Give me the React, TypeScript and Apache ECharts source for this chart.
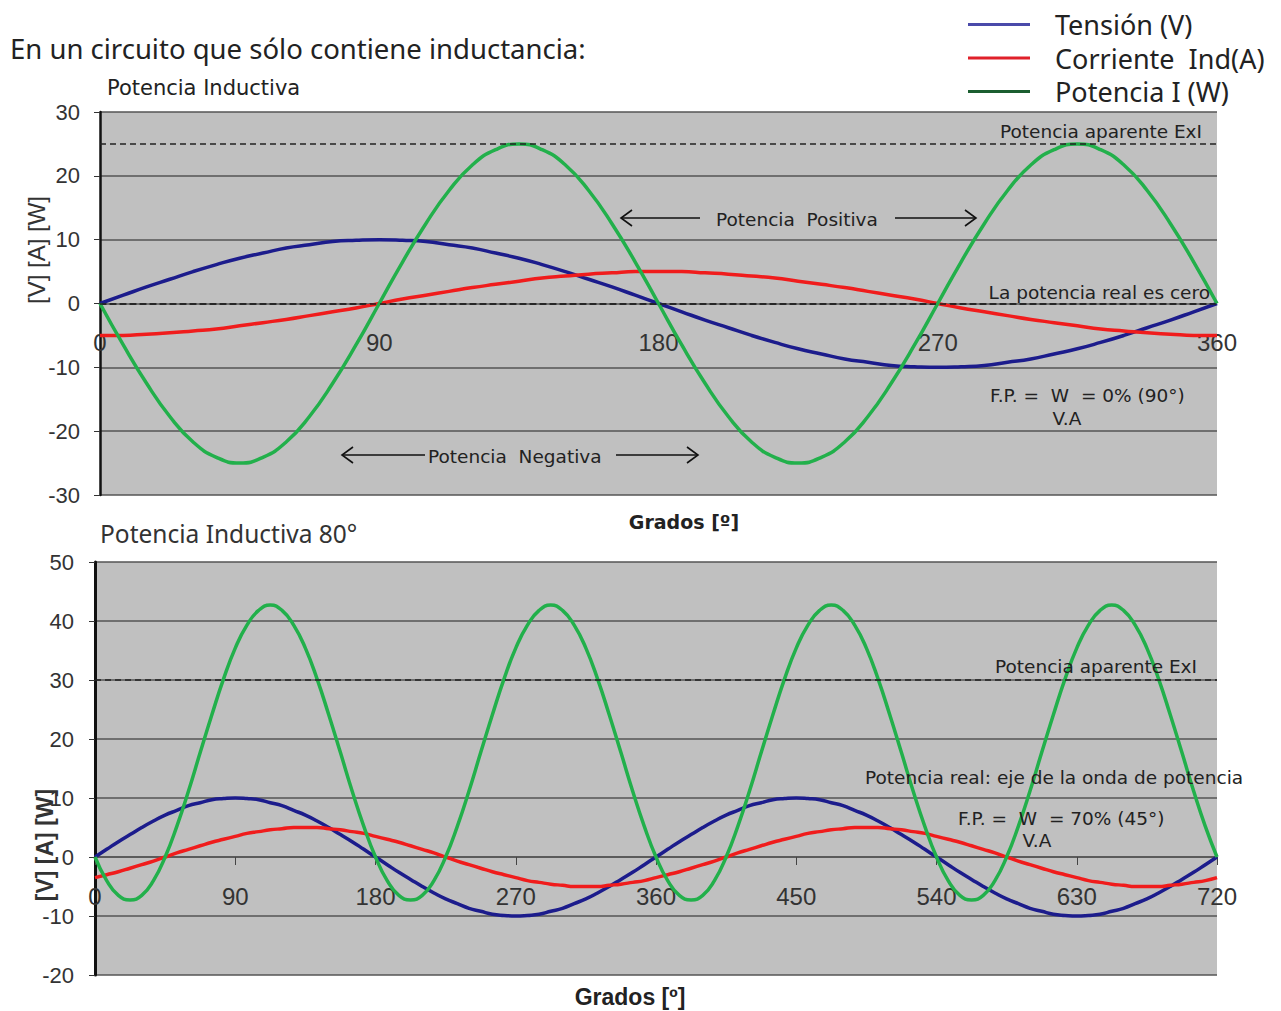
import React, { useEffect, useRef } from "react";
import * as echarts from "echarts";

// ---------- DATA ----------
const seriesNames = ["Tensión (V)", "Corriente  Ind(A)", "Potencia I (W)"];

// Top chart: degrees 0..360
const degTop = [
  0, 7.5, 15, 22.5, 30, 37.5, 45, 52.5, 60, 67.5, 75, 82.5, 90, 97.5, 105, 112.5, 120, 127.5, 135, 142.5, 150, 157.5, 165, 172.5,
  180, 187.5, 195, 202.5, 210, 217.5, 225, 232.5, 240, 247.5, 255, 262.5, 270, 277.5, 285, 292.5, 300, 307.5, 315, 322.5, 330, 337.5, 345, 352.5, 360,
];
const tensionTop = [
  0, 1.3, 2.6, 3.8, 5, 6.1, 7.1, 7.9, 8.7, 9.2, 9.7, 9.9, 10, 9.9, 9.7, 9.2, 8.7, 7.9, 7.1, 6.1, 5, 3.8, 2.6, 1.3,
  0, -1.3, -2.6, -3.8, -5, -6.1, -7.1, -7.9, -8.7, -9.2, -9.7, -9.9, -10, -9.9, -9.7, -9.2, -8.7, -7.9, -7.1, -6.1, -5, -3.8, -2.6, -1.3, 0,
];
const currentTop = [
  -5, -5, -4.8, -4.6, -4.3, -4, -3.5, -3, -2.5, -1.9, -1.3, -0.7, 0, 0.7, 1.3, 1.9, 2.5, 3, 3.5, 4, 4.3, 4.6, 4.8, 5,
  5, 5, 4.8, 4.6, 4.3, 4, 3.5, 3, 2.5, 1.9, 1.3, 0.7, 0, -0.7, -1.3, -1.9, -2.5, -3, -3.5, -4, -4.3, -4.6, -4.8, -5, -5,
];
const powerTop = [
  0, -6.5, -12.5, -17.7, -21.7, -24.1, -25, -24.1, -21.7, -17.7, -12.5, -6.5, 0, 6.5, 12.5, 17.7, 21.7, 24.1, 25, 24.1, 21.7, 17.7, 12.5, 6.5,
  0, -6.5, -12.5, -17.7, -21.7, -24.1, -25, -24.1, -21.7, -17.7, -12.5, -6.5, 0, 6.5, 12.5, 17.7, 21.7, 24.1, 25, 24.1, 21.7, 17.7, 12.5, 6.5, 0,
];
const refLinesTop = [25, 0];

// Bottom chart: degrees 0..720
const degBottom = [
  0, 7.5, 15, 22.5, 30, 37.5, 45, 52.5, 60, 67.5, 75, 82.5, 90, 97.5, 105, 112.5, 120, 127.5, 135, 142.5, 150, 157.5, 165, 172.5,
  180, 187.5, 195, 202.5, 210, 217.5, 225, 232.5, 240, 247.5, 255, 262.5, 270, 277.5, 285, 292.5, 300, 307.5, 315, 322.5, 330, 337.5, 345, 352.5,
  360, 367.5, 375, 382.5, 390, 397.5, 405, 412.5, 420, 427.5, 435, 442.5, 450, 457.5, 465, 472.5, 480, 487.5, 495, 502.5, 510, 517.5, 525, 532.5,
  540, 547.5, 555, 562.5, 570, 577.5, 585, 592.5, 600, 607.5, 615, 622.5, 630, 637.5, 645, 652.5, 660, 667.5, 675, 682.5, 690, 697.5, 705, 712.5, 720,
];
const tensionBottom = [
  0, 1.3, 2.6, 3.8, 5, 6.1, 7.1, 7.9, 8.7, 9.2, 9.7, 9.9, 10, 9.9, 9.7, 9.2, 8.7, 7.9, 7.1, 6.1, 5, 3.8, 2.6, 1.3,
  0, -1.3, -2.6, -3.8, -5, -6.1, -7.1, -7.9, -8.7, -9.2, -9.7, -9.9, -10, -9.9, -9.7, -9.2, -8.7, -7.9, -7.1, -6.1, -5, -3.8, -2.6, -1.3,
  0, 1.3, 2.6, 3.8, 5, 6.1, 7.1, 7.9, 8.7, 9.2, 9.7, 9.9, 10, 9.9, 9.7, 9.2, 8.7, 7.9, 7.1, 6.1, 5, 3.8, 2.6, 1.3,
  0, -1.3, -2.6, -3.8, -5, -6.1, -7.1, -7.9, -8.7, -9.2, -9.7, -9.9, -10, -9.9, -9.7, -9.2, -8.7, -7.9, -7.1, -6.1, -5, -3.8, -2.6, -1.3, 0,
];
const currentBottom = [
  -3.5, -3, -2.5, -1.9, -1.3, -0.7, 0, 0.7, 1.3, 1.9, 2.5, 3, 3.5, 4, 4.3, 4.6, 4.8, 5, 5, 5, 4.8, 4.6, 4.3, 4,
  3.5, 3, 2.5, 1.9, 1.3, 0.7, 0, -0.7, -1.3, -1.9, -2.5, -3, -3.5, -4, -4.3, -4.6, -4.8, -5, -5, -5, -4.8, -4.6, -4.3, -4,
  -3.5, -3, -2.5, -1.9, -1.3, -0.7, 0, 0.7, 1.3, 1.9, 2.5, 3, 3.5, 4, 4.3, 4.6, 4.8, 5, 5, 5, 4.8, 4.6, 4.3, 4,
  3.5, 3, 2.5, 1.9, 1.3, 0.7, 0, -0.7, -1.3, -1.9, -2.5, -3, -3.5, -4, -4.3, -4.6, -4.8, -5, -5, -5, -4.8, -4.6, -4.3, -4, -3.5,
];
const powerBottom = [
  0, -4, -6.5, -7.3, -6.5, -4, 0, 5.2, 11.2, 17.7, 24.1, 30.2, 35.4, 39.3, 41.8, 42.7, 41.8, 39.3, 35.4, 30.2, 24.1, 17.7, 11.2, 5.2,
  0, -4, -6.5, -7.3, -6.5, -4, 0, 5.2, 11.2, 17.7, 24.1, 30.2, 35.4, 39.3, 41.8, 42.7, 41.8, 39.3, 35.4, 30.2, 24.1, 17.7, 11.2, 5.2,
  0, -4, -6.5, -7.3, -6.5, -4, 0, 5.2, 11.2, 17.7, 24.1, 30.2, 35.4, 39.3, 41.8, 42.7, 41.8, 39.3, 35.4, 30.2, 24.1, 17.7, 11.2, 5.2,
  0, -4, -6.5, -7.3, -6.5, -4, 0, 5.2, 11.2, 17.7, 24.1, 30.2, 35.4, 39.3, 41.8, 42.7, 41.8, 39.3, 35.4, 30.2, 24.1, 17.7, 11.2, 5.2, 0,
];
const refLinesBottom = [30];

// ---------- STYLE ----------
const lineColors = ["#1c1c8c", "#f01c1c", "#22b04b"];
const legendColors = ["#4a4aaa", "#e0202a", "#1b5e30"];
const ANN = "DejaVu Sans";
const AX = "Liberation Sans";
const INK = "#222";
const ANN_SIZE = 18.5;

const pairs = (xs: number[], ys: number[]) => xs.map((x, i) => [x, ys[i]]);

const lineSeries = (name: string, idx: number, color: string, xs: number[], ys: number[], extra: any = {}) => ({
  name,
  type: "line",
  xAxisIndex: idx,
  yAxisIndex: idx,
  data: pairs(xs, ys),
  smooth: true,
  showSymbol: false,
  symbol: "none",
  lineStyle: { color, width: 3.5 },
  itemStyle: { color },
  ...extra,
});

const dashedMark = (vals: number[]) => ({
  silent: true,
  symbol: "none",
  label: { show: false },
  lineStyle: { type: [6, 4], color: INK, width: 1.5 },
  data: vals.map((v) => ({ yAxis: v })),
});

const txt = (text: string, x: number, y: number, opts: any = {}) => ({
  type: "text",
  x,
  y,
  z: 100,
  style: {
    text,
    fill: opts.fill || INK,
    fontFamily: opts.family || ANN,
    fontSize: opts.size || ANN_SIZE,
    fontWeight: opts.weight || "normal",
    align: opts.align || "left",
    verticalAlign: "middle",
  },
  rotation: opts.rotation || 0,
});

const arrow = (x1: number, x2: number, y: number, tipAtStart: boolean) => {
  const tip = tipAtStart ? x1 : x2;
  const dir = tipAtStart ? 1 : -1;
  return [
    { type: "line", z: 100, shape: { x1, y1: y, x2, y2: y }, style: { stroke: "#111", lineWidth: 1.6 } },
    {
      type: "polyline",
      z: 100,
      shape: { points: [[tip + dir * 11, y - 8], [tip, y], [tip + dir * 11, y + 8]] },
      style: { stroke: "#111", lineWidth: 1.6, fill: null },
    },
  ];
};

const axisLabelStyle = { fontFamily: AX, fontSize: 22, color: "#333" };

const option: any = {
  animation: false,
  backgroundColor: "#ffffff",
  legend: {
    orient: "vertical",
    left: 963,
    top: 6,
    icon: "rect",
    itemWidth: 62,
    itemHeight: 3,
    itemGap: 6.5,
    selectedMode: false,
    textStyle: { fontFamily: "Noto Sans", fontSize: 27, color: INK, padding: [0, 0, 0, 20] },
    data: seriesNames.map((n, i) => ({ name: n, itemStyle: { color: legendColors[i] } })),
  },
  grid: [
    { left: 100, top: 112, width: 1117, height: 383, show: true, backgroundColor: "#c0c0c0", borderWidth: 0 },
    { left: 95, top: 562, width: 1122, height: 413, show: true, backgroundColor: "#c0c0c0", borderWidth: 0 },
  ],
  xAxis: [
    {
      type: "value",
      gridIndex: 0,
      min: 0,
      max: 360,
      interval: 90,
      offset: -191.5,
      axisLine: { show: true, onZero: false, lineStyle: { color: INK, width: 1.5, type: [6, 4] } },
      axisTick: { show: false },
      axisLabel: { ...axisLabelStyle, fontSize: 24, margin: 27 },
      splitLine: { show: false },
    },
    {
      type: "value",
      gridIndex: 1,
      min: 0,
      max: 720,
      interval: 90,
      offset: -118,
      axisLine: { show: true, onZero: false, lineStyle: { color: "#555", width: 1.5 } },
      axisTick: { show: true, length: 8, lineStyle: { color: "#444", width: 1 } },
      axisLabel: { ...axisLabelStyle, fontSize: 24, margin: 27 },
      splitLine: { show: false },
    },
  ],
  yAxis: [
    {
      type: "value",
      gridIndex: 0,
      min: -30,
      max: 30,
      interval: 10,
      axisLine: { show: true, onZero: false, lineStyle: { color: "#111", width: 2.5 } },
      axisTick: { show: true, length: 6, lineStyle: { color: "#333" } },
      axisLabel: { ...axisLabelStyle, margin: 20 },
      splitLine: { show: true, lineStyle: { color: "#555", width: 1.5 } },
    },
    {
      type: "value",
      gridIndex: 1,
      min: -20,
      max: 50,
      interval: 10,
      axisLine: { show: true, onZero: false, lineStyle: { color: "#111", width: 3 } },
      axisTick: { show: true, length: 6, lineStyle: { color: "#333" } },
      axisLabel: { ...axisLabelStyle, margin: 21 },
      splitLine: { show: true, lineStyle: { color: "#555", width: 1.5 } },
    },
  ],
  series: [
    lineSeries(seriesNames[0], 0, lineColors[0], degTop, tensionTop),
    lineSeries(seriesNames[1], 0, lineColors[1], degTop, currentTop),
    lineSeries(seriesNames[2], 0, lineColors[2], degTop, powerTop, { markLine: dashedMark(refLinesTop) }),
    lineSeries(seriesNames[0], 1, lineColors[0], degBottom, tensionBottom),
    lineSeries(seriesNames[1], 1, lineColors[1], degBottom, currentBottom),
    lineSeries(seriesNames[2], 1, lineColors[2], degBottom, powerBottom, { markLine: dashedMark(refLinesBottom) }),
  ],
  graphic: [
    txt("En un circuito que sólo contiene inductancia:", 10, 48, { family: "Noto Sans", size: 27.5, fill: "#222" }),
    txt("Potencia Inductiva", 107, 88, { size: 21 }),
    txt("Potencia Inductiva 80°", 100, 533, { family: "Noto Sans", size: 24.5, fill: "#333" }),
    txt("Grados [º]", 684, 522, { size: 19, weight: "bold", align: "center" }),
    txt("Grados [º]", 630, 997, { family: AX, size: 23, weight: "bold", align: "center" }),
    txt("[V] [A] [W]", 36, 250, { family: AX, size: 24, align: "center", rotation: Math.PI / 2, fill: "#333" }),
    txt("[V] [A] [W]", 45, 845, { family: AX, size: 23, weight: "bold", align: "center", rotation: Math.PI / 2, fill: "#333" }),
    // top annotations
    txt("Potencia aparente ExI", 1202, 131, { align: "right" }),
    txt("La potencia real es cero", 1210, 292, { align: "right" }),
    txt("F.P. =  W  = 0% (90°)", 990, 395),
    txt("V.A", 1067, 418, { align: "center" }),
    txt("Potencia  Positiva", 716, 219),
    ...arrow(621, 700, 218, true),
    ...arrow(895, 976, 218, false),
    txt("Potencia  Negativa", 428, 456),
    ...arrow(342, 425, 455, true),
    ...arrow(616, 698, 455, false),
    // bottom annotations
    txt("Potencia aparente ExI", 1197, 666, { align: "right" }),
    txt("Potencia real: eje de la onda de potencia", 865, 777),
    txt("F.P. =  W  = 70% (45°)", 958, 818),
    txt("V.A", 1037, 840, { align: "center" }),
  ],
};

export default function App() {
  const ref = useRef<HTMLDivElement>(null);
  useEffect(() => {
    document.body.style.margin = "0";
    const chart = echarts.init(ref.current as HTMLDivElement, null, { renderer: "svg" });
    chart.setOption(option);
    return () => chart.dispose();
  }, []);
  return <div ref={ref} style={{ width: 1281, height: 1011 }} />;
}
